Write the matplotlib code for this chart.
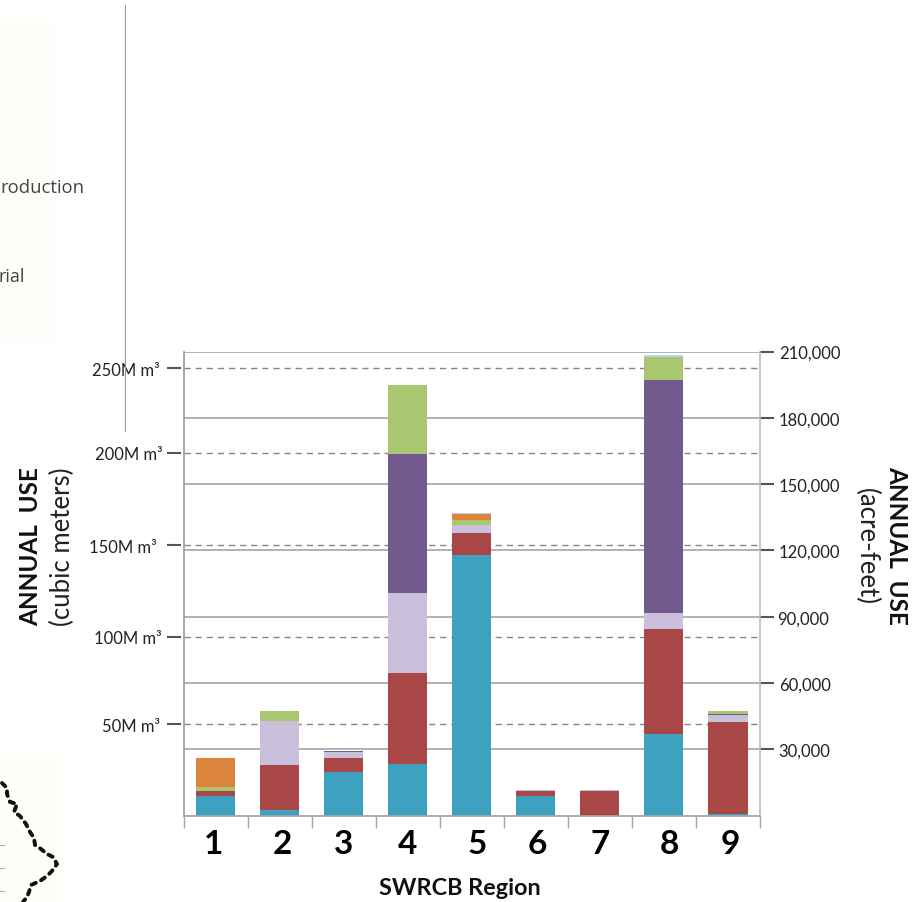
import matplotlib
matplotlib.use("Agg")
import matplotlib.pyplot as plt
from matplotlib.lines import Line2D
from matplotlib.patches import Rectangle
from matplotlib.transforms import ScaledTranslation
import numpy as np

plt.rcParams["font.family"] = ["Lato", "DejaVu Sans"]

W, H = 914, 903

regions = ["1", "2", "3", "4", "5", "6", "7", "8", "9"]

# annual use in acre-feet
surface = [8700, 2700, 19600, 23400, 117800, 8700, 0, 36700, 800]
ground = [2300, 20200, 6650, 40900, 10000, 2300, 11100, 47500, 41600]
lilac_use = [0, 19700, 2400, 36200, 3600, 400, 350, 7600, 3300]
purple_use = [0, 0, 450, 62900, 0, 0, 0, 105100, 450]
green_use = [2100, 4500, 0, 31500, 2400, 0, 0, 10500, 1000]
orange_use = [12700, 0, 0, 0, 2600, 0, 0, 0, 0]
pale_use = [0, 300, 0, 0, 300, 0, 0, 800, 300]

series = [surface, ground, lilac_use, purple_use, green_use, orange_use, pale_use]
colors = ["#3CA2C0", "#A94646", "#CBC0DB", "#725A8F", "#A9C670", "#DD843C", "#BBD4EC"]

af_ticks = [30000, 60000, 90000, 120000, 150000, 180000, 210000]
af_labels = ["30,000", "60,000", "90,000", "120,000", "150,000", "180,000", "210,000"]
af_pads = [4, 5, 3, 5, 5, 5, 5]

# the cubic meter gridlines do not sit quite evenly in the source
m3_positions = [41190, 80800, 122400, 164100, 202500]
m3_labels = ["50M m³", "100M m³", "150M m³", "200M m³", "250M m³"]
m3_pads = [7, 5, 10, 4, 7]

digit_shift = [-1.5, 3, 0, 0, 5, 2, 0, 5.5, 2.5]

# leftovers of the cropped map next to the chart, in pixels
map_outline = [(2, 784), (7, 789), (7, 795), (10, 803), (17, 805), (14, 813), (20, 817),
               (26, 825), (30, 833), (34, 839), (35, 846), (41, 850), (47, 855), (53, 858),
               (57, 865), (52, 872), (47, 877), (40, 882), (31, 886), (29, 893), (27, 898),
               (23, 903)]


def fx(x):
    return x / W


def fy(y):
    return 1 - y / H


fig = plt.figure(figsize=(W / 100, H / 100), dpi=100)
fig.patches.append(Rectangle((0, fy(345)), fx(58), fy(20) - fy(345), transform=fig.transFigure,
                             color="#FFFEFB", lw=0, zorder=-5))
fig.patches.append(Rectangle((0, 0), fx(62), fy(755), transform=fig.transFigure,
                             color="#FFFEFB", lw=0, zorder=-5))

ax = fig.add_axes([fx(183.5), fy(816.5), fx(760 - 183.5), fy(352.5) - fy(816.5)])
ax.set_xlim(0.5, 9.5)
ax.set_ylim(0, 210000)
ax.set_zorder(2)

ax_m3 = ax.twinx()
ax_m3.set_ylim(0, 210000)
ax_m3.yaxis.tick_left()
ax_m3.patch.set_visible(False)
for s in ax_m3.spines.values():
    s.set_visible(False)
ax_m3.spines["left"].set_position(("outward", 1.8))
ax_m3.set_yticks(m3_positions, m3_labels)
ax_m3.tick_params(axis="y", length=10, width=1.5, color="#555555", labelsize=12,
                  labelcolor="#222222")
for t, p in zip(ax_m3.yaxis.get_major_ticks(), m3_pads):
    t.set_pad(p * 0.72)

# twinx pushes the first axes to the left, so this has to come after it
ax.yaxis.tick_right()
ax.set_yticks(af_ticks, af_labels)
ax.tick_params(axis="y", which="major", length=10, width=1.5, color="#555555",
               labelsize=12, labelcolor="#222222")
for t, p in zip(ax.yaxis.get_major_ticks(), af_pads):
    t.set_pad(p * 0.72)

ax.grid(axis="y", color="#ABABAB", lw=1.3, zorder=0)
ax.set_axisbelow(True)
for y in m3_positions:
    ax.axhline(y, color="#858585", lw=1, dashes=(4.5, 3.5), zorder=1)

bottom = np.zeros(len(regions))
for vals, c in zip(series, colors):
    ax.bar(np.arange(1, 10), vals, width=0.61, bottom=bottom, color=c, zorder=2)
    bottom += np.array(vals)

ax.spines["top"].set_visible(False)
ax.spines["left"].set_color("#9A9A9A")
ax.spines["left"].set_linewidth(1.2)
ax.spines["right"].set_color("#BDBDBD")
ax.spines["right"].set_linewidth(1.2)
ax.spines["bottom"].set_color("#A6A6A6")
ax.spines["bottom"].set_linewidth(1.3)

ax.set_xticks(np.arange(0.5, 10), [""] * 10)
ax.set_xticks(np.arange(1, 10), regions, minor=True)
ax.tick_params(axis="x", which="major", length=8.6, width=1, color="#A6A6A6")
ax.tick_params(axis="x", which="minor", length=0, pad=10, labelsize=24)
for lab, dx in zip(ax.get_xticklabels(minor=True), digit_shift):
    lab.set_fontweight("bold")
    lab.set_color("black")
    lab.set_transform(lab.get_transform() + ScaledTranslation(dx / 100, 0, fig.dpi_scale_trans))

ax.set_xlabel("SWRCB Region", fontsize=16.8, fontweight="bold", color="#111111")
ax.xaxis.set_label_coords(0.48, -0.133)

fig.text(fx(31), fy(547), "ANNUAL  USE", rotation=90, ha="center", va="center",
         fontsize=17.5, fontweight="bold", color="#111111")
fig.text(fx(62), fy(547), "(cubic meters)", rotation=90, ha="center", va="center",
         fontsize=18.5, color="#222222")
fig.text(fx(897), fy(545), "ANNUAL  USE", rotation=270, ha="center", va="center",
         fontsize=17.5, fontweight="bold", color="#111111")
fig.text(fx(866), fy(547), "(acre-feet)", rotation=270, ha="center", va="center",
         fontsize=18.5, color="#222222")

# stray bits of the page behind the chart
fig.text(fx(85), fy(188), "roduction", ha="right", va="center", fontsize=13.3,
         family="Open Sans", color="#444444")
fig.text(fx(25), fy(277), "rial", ha="right", va="center", fontsize=13,
         family="Open Sans", color="#444444")
fig.add_artist(Line2D([fx(124.5), fx(124.5)], [fy(6), fy(432)], color="#9A9A9A", lw=0.8, zorder=5))

mx, my = zip(*map_outline)
fig.add_artist(Line2D([fx(x) for x in mx], [fy(y) for y in my], color="#111111", lw=2.8,
                      dashes=(1.2, 1.5), dash_capstyle="round"))
for y in [846, 869, 892]:
    fig.add_artist(Line2D([0, fx(4)], [fy(y), fy(y)], color="#AAAAAA", lw=0.8))

fig.savefig("out.png", dpi=100)
